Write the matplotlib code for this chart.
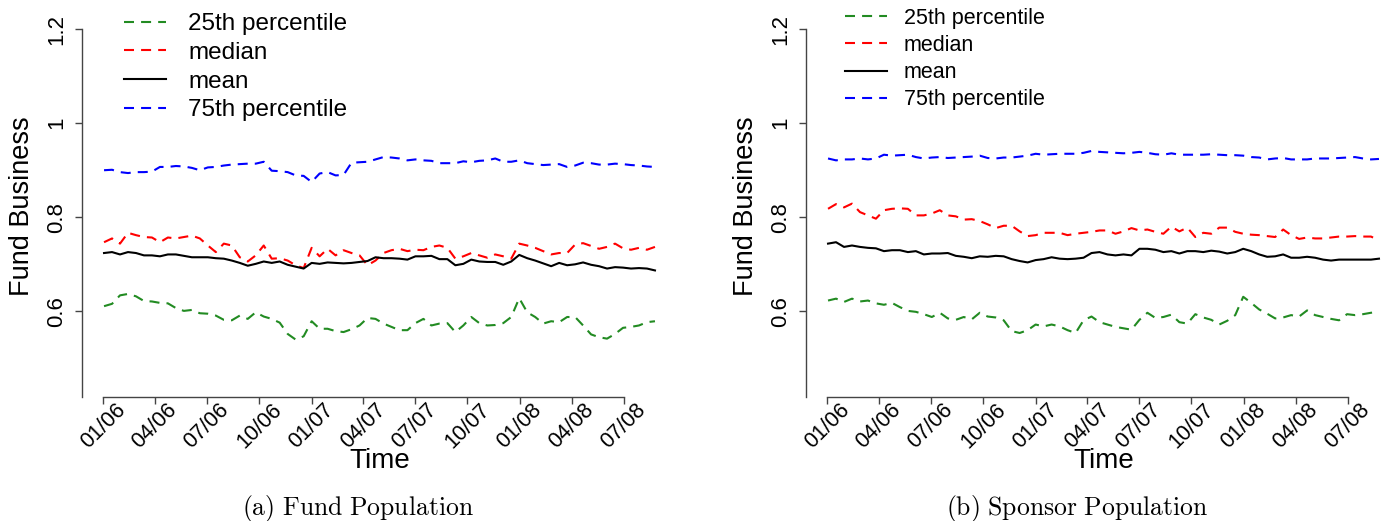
import matplotlib
matplotlib.use('Agg')
import matplotlib.pyplot as plt
import matplotlib.dates as mdates
import pandas as pd

plt.rcParams['font.family'] = ['Liberation Sans', 'DejaVu Sans']
plt.rcParams['mathtext.fontset'] = 'cm'

# biweekly observations, Jan 2006 - Aug 2008
dates = pd.date_range('2006-01-02', periods=70, freq='14D')
tick_dates = pd.date_range('2006-01-01', '2008-07-01', freq='QS')
tick_labels = [d.strftime('%m/%y') for d in tick_dates]
labels = ['25th percentile', 'median', 'mean', '75th percentile']

# (a) fund population
fund_p25 = [0.611, 0.616, 0.634, 0.637, 0.632, 0.622, 0.621, 0.618, 0.617, 0.607,
            0.601, 0.603, 0.596, 0.595, 0.591, 0.582, 0.581, 0.591, 0.584, 0.598,
            0.589, 0.584, 0.576, 0.552, 0.540, 0.547, 0.579, 0.563, 0.563, 0.558,
            0.556, 0.562, 0.570, 0.586, 0.584, 0.574, 0.567, 0.560, 0.560, 0.575,
            0.584, 0.570, 0.574, 0.575, 0.556, 0.570, 0.588, 0.575, 0.570, 0.571,
            0.575, 0.588, 0.628, 0.598, 0.588, 0.574, 0.579, 0.577, 0.588, 0.588,
            0.570, 0.551, 0.545, 0.542, 0.552, 0.565, 0.567, 0.570, 0.577, 0.579]
fund_med = [0.747, 0.755, 0.744, 0.767, 0.762, 0.758, 0.757, 0.747, 0.757, 0.755,
            0.758, 0.761, 0.755, 0.740, 0.726, 0.744, 0.740, 0.715, 0.706, 0.719,
            0.740, 0.712, 0.713, 0.708, 0.698, 0.692, 0.735, 0.717, 0.733, 0.719,
            0.730, 0.724, 0.719, 0.698, 0.708, 0.724, 0.730, 0.733, 0.728, 0.731,
            0.730, 0.737, 0.740, 0.735, 0.712, 0.717, 0.724, 0.719, 0.714, 0.721,
            0.717, 0.712, 0.744, 0.740, 0.735, 0.728, 0.721, 0.724, 0.724, 0.742,
            0.745, 0.739, 0.733, 0.737, 0.744, 0.734, 0.731, 0.735, 0.731, 0.737]
fund_mean = [0.724, 0.726, 0.721, 0.726, 0.724, 0.719, 0.719, 0.717, 0.721, 0.721,
             0.718, 0.715, 0.715, 0.715, 0.713, 0.712, 0.708, 0.703, 0.697, 0.701,
             0.706, 0.703, 0.706, 0.699, 0.695, 0.691, 0.703, 0.701, 0.704, 0.703,
             0.702, 0.703, 0.705, 0.707, 0.715, 0.713, 0.713, 0.712, 0.710, 0.717,
             0.717, 0.718, 0.711, 0.711, 0.698, 0.701, 0.710, 0.706, 0.705, 0.705,
             0.699, 0.706, 0.720, 0.713, 0.708, 0.702, 0.696, 0.703, 0.698, 0.700,
             0.704, 0.699, 0.696, 0.691, 0.694, 0.693, 0.691, 0.692, 0.691, 0.687]
fund_p75 = [0.900, 0.901, 0.896, 0.894, 0.896, 0.896, 0.897, 0.907, 0.907, 0.909,
            0.908, 0.905, 0.900, 0.906, 0.907, 0.910, 0.912, 0.913, 0.914, 0.914,
            0.918, 0.899, 0.898, 0.896, 0.889, 0.888, 0.875, 0.893, 0.896, 0.889,
            0.890, 0.916, 0.917, 0.918, 0.923, 0.928, 0.927, 0.925, 0.921, 0.923,
            0.921, 0.920, 0.915, 0.915, 0.915, 0.919, 0.917, 0.920, 0.921, 0.925,
            0.918, 0.918, 0.921, 0.915, 0.913, 0.911, 0.912, 0.913, 0.907, 0.910,
            0.916, 0.915, 0.912, 0.912, 0.914, 0.913, 0.911, 0.910, 0.908, 0.907]

# (b) sponsor population
spon_p25 = [0.623, 0.627, 0.620, 0.627, 0.621, 0.623, 0.617, 0.614, 0.618, 0.609,
            0.601, 0.599, 0.594, 0.588, 0.597, 0.585, 0.582, 0.588, 0.583, 0.597,
            0.589, 0.587, 0.581, 0.558, 0.554, 0.560, 0.572, 0.568, 0.572, 0.568,
            0.560, 0.554, 0.581, 0.589, 0.577, 0.572, 0.567, 0.564, 0.561, 0.582,
            0.597, 0.586, 0.588, 0.593, 0.577, 0.574, 0.594, 0.587, 0.582, 0.572,
            0.580, 0.592, 0.631, 0.618, 0.604, 0.595, 0.585, 0.587, 0.592, 0.589,
            0.602, 0.592, 0.588, 0.584, 0.581, 0.594, 0.592, 0.594, 0.597, 0.599]
spon_med = [0.818, 0.828, 0.821, 0.829, 0.811, 0.804, 0.797, 0.815, 0.818, 0.819,
            0.818, 0.804, 0.804, 0.808, 0.815, 0.804, 0.802, 0.795, 0.796, 0.792,
            0.785, 0.777, 0.782, 0.782, 0.770, 0.760, 0.762, 0.767, 0.767, 0.767,
            0.762, 0.765, 0.767, 0.769, 0.772, 0.772, 0.765, 0.770, 0.777, 0.772,
            0.774, 0.769, 0.765, 0.780, 0.770, 0.778, 0.758, 0.767, 0.765, 0.778,
            0.778, 0.769, 0.765, 0.763, 0.762, 0.760, 0.758, 0.774, 0.762, 0.754,
            0.757, 0.755, 0.755, 0.757, 0.759, 0.759, 0.760, 0.759, 0.759, 0.751]
spon_mean = [0.744, 0.747, 0.737, 0.740, 0.737, 0.735, 0.734, 0.728, 0.730, 0.730,
             0.726, 0.728, 0.721, 0.723, 0.723, 0.724, 0.718, 0.716, 0.713, 0.717,
             0.716, 0.718, 0.717, 0.711, 0.707, 0.704, 0.709, 0.711, 0.715, 0.712,
             0.711, 0.712, 0.714, 0.724, 0.726, 0.721, 0.719, 0.721, 0.719, 0.733,
             0.733, 0.731, 0.726, 0.728, 0.723, 0.728, 0.728, 0.726, 0.729, 0.727,
             0.723, 0.726, 0.733, 0.728, 0.721, 0.716, 0.717, 0.721, 0.714, 0.714,
             0.716, 0.714, 0.710, 0.708, 0.710, 0.710, 0.710, 0.710, 0.710, 0.712]
spon_p75 = [0.925, 0.921, 0.923, 0.923, 0.925, 0.923, 0.925, 0.933, 0.931, 0.932,
            0.933, 0.928, 0.925, 0.927, 0.928, 0.926, 0.927, 0.928, 0.929, 0.931,
            0.926, 0.925, 0.927, 0.927, 0.929, 0.931, 0.935, 0.933, 0.934, 0.935,
            0.935, 0.935, 0.937, 0.941, 0.939, 0.938, 0.937, 0.936, 0.937, 0.939,
            0.937, 0.934, 0.933, 0.936, 0.933, 0.933, 0.933, 0.933, 0.934, 0.933,
            0.932, 0.932, 0.931, 0.928, 0.927, 0.923, 0.925, 0.926, 0.923, 0.923,
            0.923, 0.925, 0.925, 0.925, 0.926, 0.927, 0.928, 0.925, 0.923, 0.924]

colors = ['#228B22', '#FF0000', '#000000', '#0000FF']
W, H = 1387, 521
fig = plt.figure(figsize=(W / 100, H / 100), dpi=100)


def panel(left_px, series, caption, cap_x, leg_size, leg_xy, leg_space, leg_gap):
    ax = fig.add_axes([left_px / W, (H - 396.5) / H, 595 / W, 381.5 / H])
    for vals, col, lab in zip(series, colors, labels):
        ln, = ax.plot(dates, vals, color=col, lw=1.5, label=lab)
        if lab != 'mean':
            ln.set_dashes((4.8, 3.4))
    x0, x1 = mdates.date2num(dates[0]), mdates.date2num(dates[-1])
    pad = 0.04 * (x1 - x0)
    ax.set_xlim(x0 - pad, x1 + pad)
    ax.set_ylim(0.419, 1.23)
    ax.set_yticks([0.6, 0.8, 1.0, 1.2])
    ax.set_yticklabels(['0.6', '0.8', '1', '1.2'], rotation=90, va='center', fontsize=16)
    ax.set_xticks(tick_dates)
    ax.set_xticklabels(tick_labels, rotation=45, ha='center', va='center', fontsize=15.5)
    ax.tick_params(axis='y', length=5, width=1, color='#444444', pad=5.5)
    ax.tick_params(axis='x', length=5, width=1, color='#444444', pad=16)
    for s in ['top', 'right']:
        ax.spines[s].set_visible(False)
    for s in ['left', 'bottom']:
        ax.spines[s].set_color('#444444')
        ax.spines[s].set_linewidth(1)
    ax.spines['left'].set_bounds(0.419, 1.2)
    ax.spines['bottom'].set_bounds(mdates.date2num(tick_dates[0]), mdates.date2num(tick_dates[-1]))
    ax.set_ylabel('Fund Business', fontsize=19.5, va='center')
    ax.yaxis.set_label_coords(-60 / 595, 0.5)
    ax.set_xlabel('Time', fontsize=20, va='center')
    ax.xaxis.set_label_coords(0.5, -64.5 / 381.5)
    fs_px = leg_size * 100 / 72
    ax.legend(loc='upper left', bbox_to_anchor=(leg_xy[0] / W, 1 - leg_xy[1] / H),
              bbox_transform=fig.transFigure, frameon=False, fontsize=leg_size,
              borderpad=0, borderaxespad=0, handlelength=42 / fs_px,
              handletextpad=leg_gap / fs_px, labelspacing=leg_space)
    fig.text(cap_x / W, 1 - 508 / H, caption, ha='center', va='center', fontsize=18.5)
    return ax


panel(82, [fund_p25, fund_med, fund_mean, fund_p75],
      r'$\mathrm{(a)\ Fund\ Population}$', 358, 17.5, (124, 13), 0.28, 22)
panel(806, [spon_p25, spon_med, spon_mean, spon_p75],
      r'$\mathrm{(b)\ Sponsor\ Population}$', 1077, 15.5, (845, 8), 0.28, 17)

fig.savefig('out.png', dpi=100)
